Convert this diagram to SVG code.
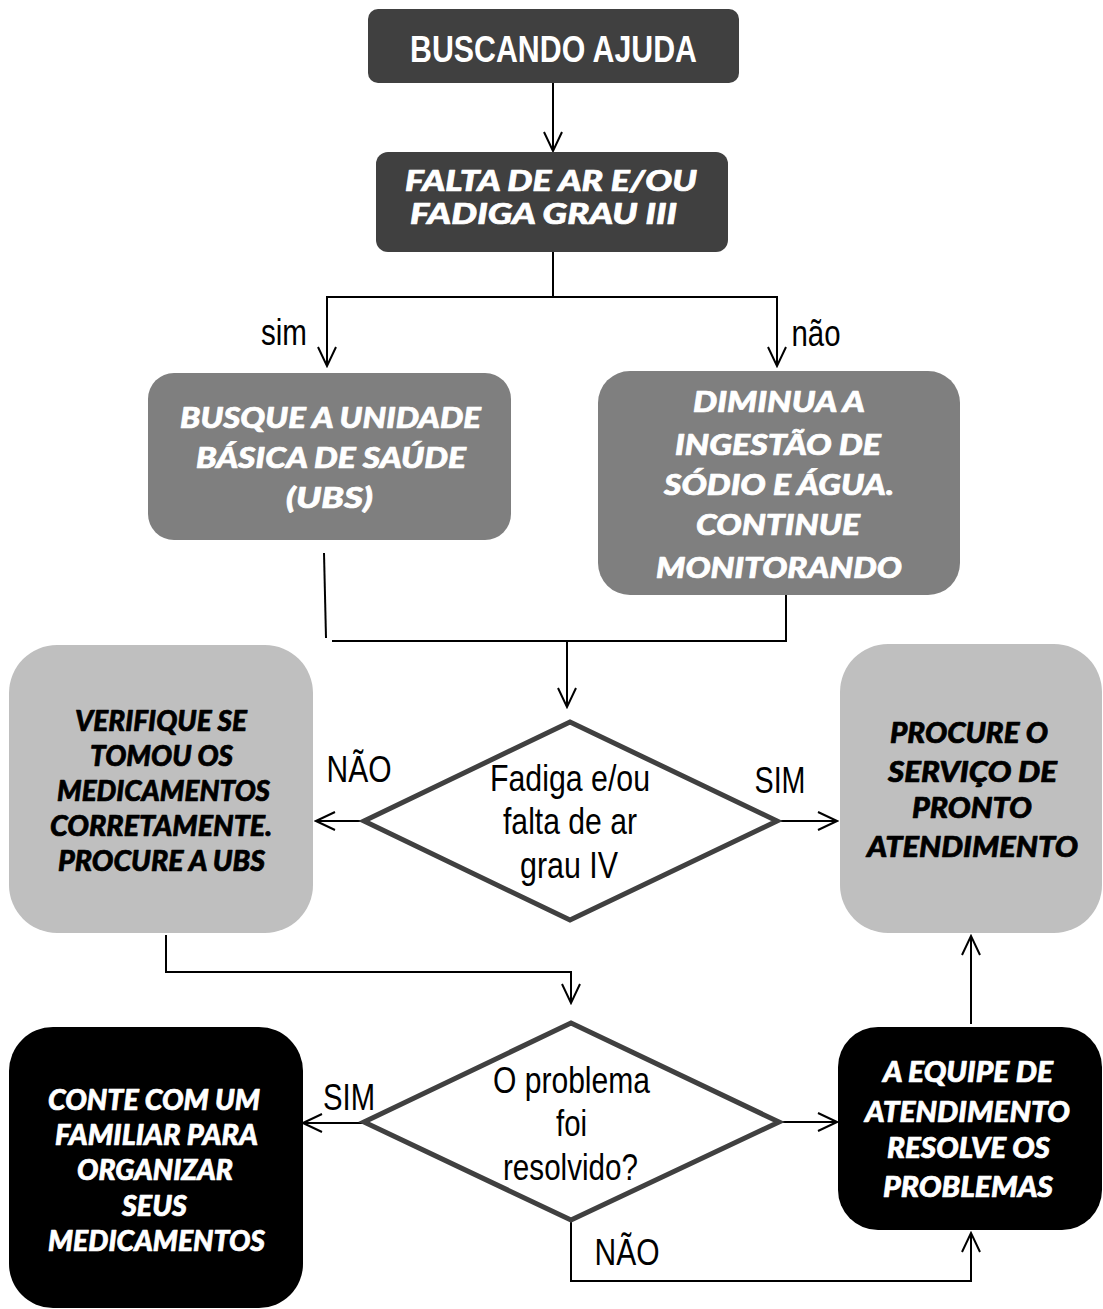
<svg xmlns="http://www.w3.org/2000/svg" width="1103" height="1309" viewBox="0 0 1103 1309">
<style>
.ln{fill:none;stroke:#000;stroke-width:2}
.ar{marker-end:url(#ah)}
.dia{fill:#fff;stroke:#404040;stroke-width:5;stroke-linejoin:miter}
.nar{font-family:"Liberation Sans",Arial,sans-serif;font-size:36px;fill:#000;text-anchor:middle}
.hd{font-family:"Liberation Sans",Arial,sans-serif;font-weight:bold;font-size:37px;fill:#fff;text-anchor:middle}
.bk{font-family:Lato,"Open Sans",sans-serif;font-weight:900;font-style:italic;font-size:29px;text-anchor:middle;stroke-width:0.7px;stroke-linejoin:round}
.w{fill:#fff;stroke:#fff}
.b{fill:#000;stroke:#000}
</style>
<defs>
<marker id="ah" markerUnits="userSpaceOnUse" markerWidth="22" markerHeight="22" viewBox="0 0 22 22" refX="20" refY="11" orient="auto">
<path d="M1,2 L20,11 L1,20" fill="none" stroke="#000" stroke-width="2"/>
</marker>
</defs>
<g id="connectors">
<line class="ln ar" x1="553" y1="83" x2="553" y2="151"/>
<polyline class="ln" points="553,252 553,297"/>
<polyline class="ln ar" points="553,297 327,297 327,366"/>
<polyline class="ln ar" points="553,297 777,297 777,366"/>
<line class="ln" x1="324" y1="553" x2="326" y2="638"/>
<polyline class="ln" points="332,641 786,641 786,595"/>
<line class="ln ar" x1="567" y1="641" x2="567" y2="707"/>
<line class="ln ar" x1="364" y1="821" x2="316" y2="821"/>
<line class="ln ar" x1="777" y1="821" x2="837" y2="821"/>
<polyline class="ln ar" points="166,935 166,972 571,972 571,1003"/>
<line class="ln ar" x1="364" y1="1123" x2="303" y2="1123"/>
<line class="ln ar" x1="779" y1="1122" x2="837" y2="1122"/>
<polyline class="ln ar" points="571,1220 571,1281 971,1281 971,1233"/>
<line class="ln ar" x1="971" y1="1024" x2="971" y2="936"/>
<text class="nar" x="284" y="345" textLength="46" lengthAdjust="spacingAndGlyphs">sim</text>
<text class="nar" x="816" y="346" textLength="49" lengthAdjust="spacingAndGlyphs">não</text>
<text class="nar" x="359" y="782" textLength="65" lengthAdjust="spacingAndGlyphs">NÃO</text>
<text class="nar" x="780" y="793" textLength="51" lengthAdjust="spacingAndGlyphs">SIM</text>
<text class="nar" x="349" y="1110" textLength="52" lengthAdjust="spacingAndGlyphs">SIM</text>
<text class="nar" x="627" y="1265" textLength="65" lengthAdjust="spacingAndGlyphs">NÃO</text>
</g>
<g id="n1">
<rect x="368" y="9" width="371" height="74" rx="10" fill="#404040"/>
<text class="hd" x="553.5" y="62" textLength="287" lengthAdjust="spacingAndGlyphs">BUSCANDO AJUDA</text>
</g>
<g id="n2">
<rect x="376" y="152" width="352" height="100" rx="12" fill="#404040"/>
<text class="bk w" font-size="27.5" x="551" y="190.5" textLength="292" lengthAdjust="spacingAndGlyphs">FALTA DE AR E/OU</text>
<text class="bk w" font-size="27.5" x="543.5" y="223.5" textLength="267" lengthAdjust="spacingAndGlyphs">FADIGA GRAU III</text>
</g>
<g id="n3">
<rect x="148" y="373" width="363" height="167" rx="26" fill="#7f7f7f"/>
<text class="bk w" font-size="30" x="330.5" y="428" textLength="301" lengthAdjust="spacingAndGlyphs">BUSQUE A UNIDADE</text>
<text class="bk w" font-size="30" x="331" y="468" textLength="270" lengthAdjust="spacingAndGlyphs">BÁSICA DE SAÚDE</text>
<text class="bk w" font-size="30" x="329.5" y="508" textLength="87" lengthAdjust="spacingAndGlyphs">(UBS)</text>
</g>
<g id="n4">
<rect x="598" y="371" width="362" height="224" rx="32" fill="#7f7f7f"/>
<text class="bk w" font-size="30" x="779" y="412" textLength="172" lengthAdjust="spacingAndGlyphs">DIMINUA A</text>
<text class="bk w" font-size="30" x="778" y="455" textLength="206" lengthAdjust="spacingAndGlyphs">INGESTÃO DE</text>
<text class="bk w" font-size="30" x="779" y="495" textLength="230" lengthAdjust="spacingAndGlyphs">SÓDIO E ÁGUA.</text>
<text class="bk w" font-size="30" x="778" y="535" textLength="164" lengthAdjust="spacingAndGlyphs">CONTINUE</text>
<text class="bk w" font-size="30" x="779" y="578" textLength="246" lengthAdjust="spacingAndGlyphs">MONITORANDO</text>
</g>
<g id="n5">
<rect x="9" y="645" width="304" height="288" rx="48" fill="#bfbfbf"/>
<text class="bk b" x="161" y="731" textLength="172" lengthAdjust="spacingAndGlyphs">VERIFIQUE SE</text>
<text class="bk b" x="161.5" y="765.5" textLength="143" lengthAdjust="spacingAndGlyphs">TOMOU OS</text>
<text class="bk b" x="163.5" y="800.5" textLength="213" lengthAdjust="spacingAndGlyphs">MEDICAMENTOS</text>
<text class="bk b" x="161" y="835.5" textLength="222" lengthAdjust="spacingAndGlyphs">CORRETAMENTE.</text>
<text class="bk b" x="161.5" y="870.5" textLength="207" lengthAdjust="spacingAndGlyphs">PROCURE A UBS</text>
</g>
<g id="n6">
<polygon class="dia" points="570,722 777,821 570,920 364,821"/>
<text class="nar" x="570" y="791" textLength="160" lengthAdjust="spacingAndGlyphs">Fadiga e/ou</text>
<text class="nar" x="570" y="834" textLength="134" lengthAdjust="spacingAndGlyphs">falta de ar</text>
<text class="nar" x="569" y="878" textLength="98" lengthAdjust="spacingAndGlyphs">grau IV</text>
</g>
<g id="n7">
<rect x="840" y="644" width="262" height="289" rx="48" fill="#bfbfbf"/>
<text class="bk b" x="969" y="743" textLength="158" lengthAdjust="spacingAndGlyphs">PROCURE O</text>
<text class="bk b" x="972.5" y="782" textLength="169" lengthAdjust="spacingAndGlyphs">SERVIÇO DE</text>
<text class="bk b" x="972" y="818" textLength="120" lengthAdjust="spacingAndGlyphs">PRONTO</text>
<text class="bk b" x="972.5" y="857" textLength="211" lengthAdjust="spacingAndGlyphs">ATENDIMENTO</text>
</g>
<g id="n8">
<polygon class="dia" points="571,1023 779,1122 571,1220 364,1122"/>
<text class="nar" x="571.5" y="1093" textLength="157" lengthAdjust="spacingAndGlyphs">O problema</text>
<text class="nar" x="571.5" y="1136" textLength="31" lengthAdjust="spacingAndGlyphs">foi</text>
<text class="nar" x="570.5" y="1180" textLength="135" lengthAdjust="spacingAndGlyphs">resolvido?</text>
</g>
<g id="n9">
<rect x="9" y="1027" width="294" height="281" rx="44" fill="#000"/>
<text class="bk w" x="154" y="1110" textLength="212" lengthAdjust="spacingAndGlyphs">CONTE COM UM</text>
<text class="bk w" x="156.5" y="1145" textLength="203" lengthAdjust="spacingAndGlyphs">FAMILIAR PARA</text>
<text class="bk w" x="155" y="1180" textLength="156" lengthAdjust="spacingAndGlyphs">ORGANIZAR</text>
<text class="bk w" x="154.5" y="1216" textLength="65" lengthAdjust="spacingAndGlyphs">SEUS</text>
<text class="bk w" x="156.5" y="1251" textLength="217" lengthAdjust="spacingAndGlyphs">MEDICAMENTOS</text>
</g>
<g id="n10">
<rect x="838" y="1027" width="264" height="203" rx="40" fill="#000"/>
<text class="bk w" x="968" y="1082" textLength="170" lengthAdjust="spacingAndGlyphs">A EQUIPE DE</text>
<text class="bk w" x="967.5" y="1122" textLength="205" lengthAdjust="spacingAndGlyphs">ATENDIMENTO</text>
<text class="bk w" x="968.5" y="1158" textLength="163" lengthAdjust="spacingAndGlyphs">RESOLVE OS</text>
<text class="bk w" x="968" y="1197" textLength="170" lengthAdjust="spacingAndGlyphs">PROBLEMAS</text>
</g>
</svg>
